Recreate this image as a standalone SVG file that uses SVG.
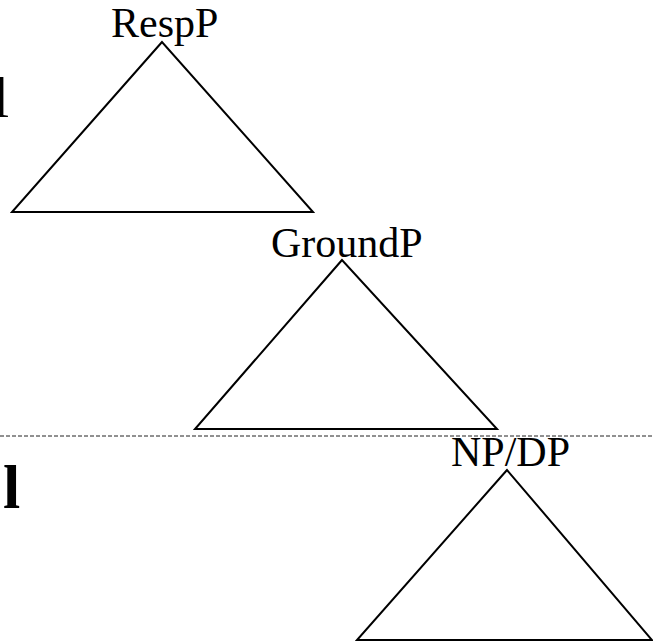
<svg xmlns="http://www.w3.org/2000/svg" width="653" height="643" viewBox="0 0 653 643">
<style>
.tri{fill:none;stroke:#000;stroke-width:2;stroke-linejoin:miter}
.lbl{font-family:"Liberation Serif","Times New Roman",serif;font-size:42px;fill:#000}
</style>
<rect width="653" height="643" fill="#fff"/>
<g id="side-text">
<text x="-7" y="117" class="lbl" style="font-size:58px">l</text>
<text x="3" y="508" class="lbl" style="font-size:62px;font-weight:bold">l</text>
</g>
<g id="connectors">
<line x1="0" y1="436" x2="653" y2="436" stroke="#222" stroke-width="1" stroke-dasharray="4,2"/>
</g>
<g id="RespP">
<polygon class="tri" points="162,42 12,212 313,212"/>
<text x="111" y="37" class="lbl">RespP</text>
</g>
<g id="GroundP">
<polygon class="tri" points="342,260 195,429 497,429"/>
<text x="271" y="257" class="lbl">GroundP</text>
</g>
<g id="NPDP">
<polygon class="tri" points="507,470 357,640 652,640"/>
<text x="451" y="466" class="lbl">NP/DP</text>
</g>
</svg>
